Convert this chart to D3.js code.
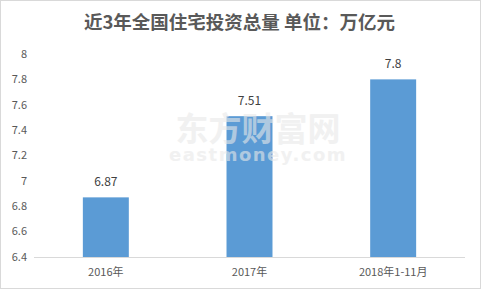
<!DOCTYPE html>
<html>
<head>
<meta charset="utf-8">
<script src="https://cdn.jsdelivr.net/npm/d3@7"></script>
<style>
  body { margin: 0; background: #fff; }
  text { font-family: "Microsoft YaHei", "Noto Sans CJK SC", sans-serif; }
</style>
</head>
<body>
<script>
var width = 481, height = 289;
var margin = {top: 54, right: 16, bottom: 32, left: 34};

var categories = ["2016年", "2017年", "2018年1-11月"];
var values = [6.87, 7.51, 7.8];
var yTicks = [6.4, 6.6, 6.8, 7, 7.2, 7.4, 7.6, 7.8, 8];

var svg = d3.select("body").append("svg")
    .attr("width", width)
    .attr("height", height);

// frame round the whole chart
svg.append("rect")
    .attr("x", 0.5).attr("y", 0.5)
    .attr("width", width - 1).attr("height", height - 1)
    .attr("fill", "#fff")
    .attr("stroke", "#d9d9d9");

var x = d3.scaleBand()
    .domain(categories)
    .range([margin.left, width - margin.right]);

var y = d3.scaleLinear()
    .domain([6.4, 8])
    .range([257, 54]);

var barW = x.bandwidth() * 0.32;

// y tick labels (no axis line)
svg.append("g").selectAll("text")
    .data(yTicks)
    .enter().append("text")
    .attr("x", 27)
    .attr("y", function(d) { return y(d); })
    .attr("dy", "0.35em")
    .attr("text-anchor", "end")
    .style("font-size", "11px")
    .attr("fill", "#595959")
    .text(function(d) { return d; });

// bars
svg.append("g").selectAll("rect")
    .data(values)
    .enter().append("rect")
    .attr("x", function(d, i) { return x(categories[i]) + (x.bandwidth() - barW) / 2; })
    .attr("y", function(d) { return y(d); })
    .attr("width", barW)
    .attr("height", function(d) { return y(6.4) - y(d); })
    .attr("fill", "#5b9bd5");

// baseline
svg.append("line")
    .attr("x1", margin.left).attr("x2", width - margin.right)
    .attr("y1", y(6.4) + 0.5).attr("y2", y(6.4) + 0.5)
    .attr("stroke", "#d9d9d9");

// watermark, drawn before the labels so they stay on top
var wm = svg.append("g").attr("fill", "#e8e8e8").attr("opacity", 0.6);
wm.append("text")
    .attr("x", 258).attr("y", 141)
    .attr("text-anchor", "middle")
    .style("font-size", "33px")
    .style("font-weight", "bold")
    .text("东方财富网");
wm.append("text")
    .attr("x", 258).attr("y", 161)
    .attr("text-anchor", "middle")
    .style("font-size", "18px")
    .style("font-weight", "bold")
    .style("letter-spacing", "1.5px")
    .style("font-family", "Verdana, 'DejaVu Sans', sans-serif")
    .text("eastmoney.com");

// value labels
svg.append("g").selectAll("text")
    .data(values)
    .enter().append("text")
    .attr("x", function(d, i) { return x(categories[i]) + x.bandwidth() / 2; })
    .attr("y", function(d) { return y(d) - 11; })
    .attr("text-anchor", "middle")
    .style("font-size", "12px")
    .attr("fill", "#404040")
    .text(function(d) { return d; });

// category labels
svg.append("g").selectAll("text")
    .data(categories)
    .enter().append("text")
    .attr("x", function(d) { return x(d) + x.bandwidth() / 2; })
    .attr("y", 276)
    .attr("text-anchor", "middle")
    .style("font-size", "11px")
    .attr("fill", "#595959")
    .text(function(d) { return d; });

// title
svg.append("text")
    .attr("x", width / 2 - 1)
    .attr("y", 29)
    .attr("text-anchor", "middle")
    .style("font-size", "18.5px")
    .style("font-weight", "bold")
    .attr("fill", "#595959")
    .text("近3年全国住宅投资总量 单位：万亿元");
</script>
</body>
</html>
